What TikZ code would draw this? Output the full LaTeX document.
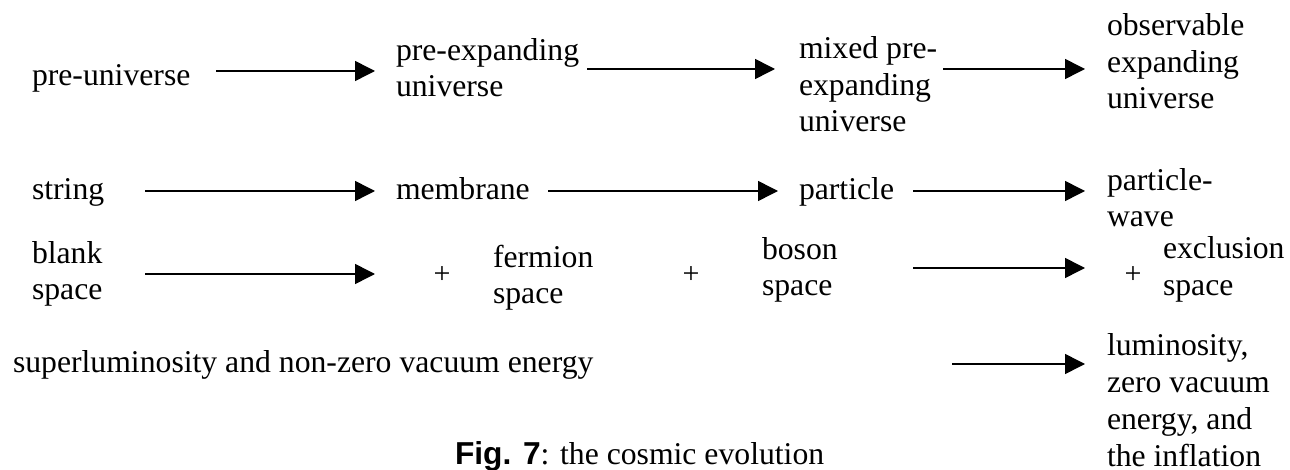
\documentclass[tikz,border=0pt]{standalone}
\usepackage{fontspec}
\setmainfont{Liberation Serif}
\setsansfont{Liberation Sans}
\usetikzlibrary{arrows.meta}
\begin{document}
\begin{tikzpicture}[x=1pt,y=-1pt,
  lbl/.style={inner sep=0pt, outer sep=0pt, anchor=base west, align=left,
              font=\fontsize{31.7}{36.8}\selectfont},
  plus/.style={inner sep=0pt, anchor=center, font=\fontsize{30}{34}\selectfont},
  arr/.style={line width=1.5pt, -{Triangle[length=20pt,width=20pt]}}]
\useasboundingbox (0,0) rectangle (1290,470);
% row 1 (multi-line nodes are placed by the baseline of their last line)
\node[lbl] (pu) at (32,86) {pre-universe};
\node[lbl] (pe) at (396,97) {pre-expanding\\universe};
\node[lbl] (mp) at (799,132) {mixed pre-\\expanding\\universe};
\node[lbl] (ob) at (1107,109) {observable\\expanding\\universe};
% row 2
\node[lbl] (st) at (32,200) {string};
\node[lbl] (mb) at (396,200) {membrane};
\node[lbl] (pa) at (799,200) {particle};
\node[lbl] (pw) at (1107,227) {particle-\\wave};
% row 3
\node[lbl] (bl) at (32,300) {blank\\space};
\node[plus] (p1) at (442,275) {+};
\node[lbl] (fe) at (493,304) {fermion\\space};
\node[plus] (p2) at (691,275) {+};
\node[lbl] (bo) at (762,296) {boson\\space};
\node[plus] (p3) at (1133,275) {+};
\node[lbl] (ex) at (1163,295) {exclusion\\space};
% row 4
\node[lbl] (su) at (13,372) {superluminosity and non-zero vacuum energy};
\node[lbl] (lu) at (1107,466) {luminosity,\\zero vacuum\\energy, and\\the inflation};
% caption
\node[lbl] (cap) at (455,464) {{\sffamily\bfseries Fig. 7}: the cosmic evolution};
% arrow end points
\coordinate (pu-out) at (216,71);  \coordinate (pe-in) at (375,71);
\coordinate (pe-out) at (587,69);  \coordinate (mp-in) at (775,69);
\coordinate (mp-out) at (943,69);  \coordinate (ob-in) at (1085,69);
\coordinate (st-out) at (145,191); \coordinate (mb-in) at (375,191);
\coordinate (mb-out) at (548,191); \coordinate (pa-in) at (778,191);
\coordinate (pa-out) at (913,191); \coordinate (pw-in) at (1085,191);
\coordinate (bl-out) at (145,274); \coordinate (p1-in) at (375,274);
\coordinate (bo-out) at (913,268); \coordinate (p3-in) at (1085,268);
\coordinate (su-out) at (952,364); \coordinate (lu-in) at (1085,364);
\draw[arr] (pu-out) -- (pe-in);
\draw[arr] (pe-out) -- (mp-in);
\draw[arr] (mp-out) -- (ob-in);
\draw[arr] (st-out) -- (mb-in);
\draw[arr] (mb-out) -- (pa-in);
\draw[arr] (pa-out) -- (pw-in);
\draw[arr] (bl-out) -- (p1-in);
\draw[arr] (bo-out) -- (p3-in);
\draw[arr] (su-out) -- (lu-in);
\end{tikzpicture}
\end{document}
